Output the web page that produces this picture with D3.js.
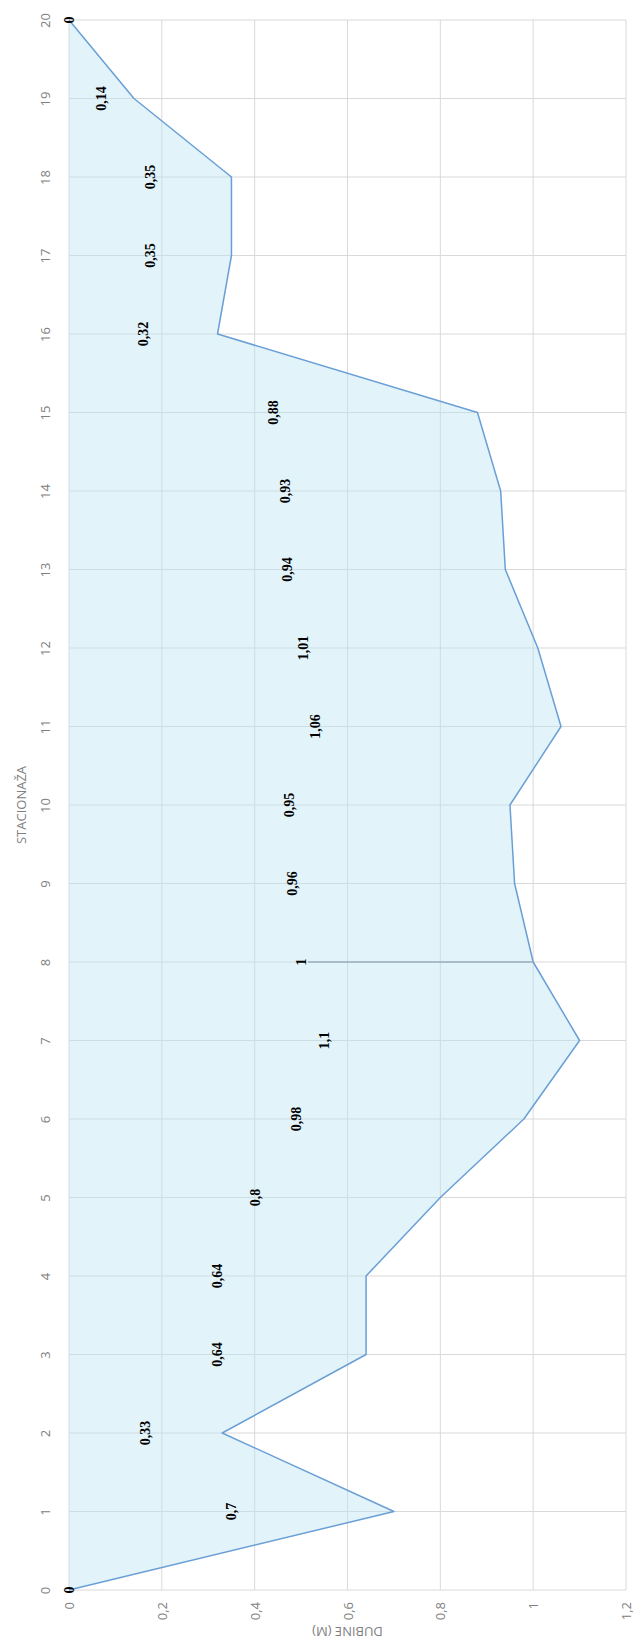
<!DOCTYPE html>
<html>
<head>
<meta charset="utf-8">
<script src="https://cdn.jsdelivr.net/npm/d3@7"></script>
<style>
  html, body { margin: 0; padding: 0; background: #fff; }
  svg { display: block; }
</style>
</head>
<body>
<svg id="chart" width="635" height="1641"></svg>
<script>
// ---- data ----
const categories = [0,1,2,3,4,5,6,7,8,9,10,11,12,13,14,15,16,17,18,19,20];
const depths = [0,0.7,0.33,0.64,0.64,0.8,0.98,1.1,1,0.96,0.95,1.06,1.01,0.94,0.93,0.88,0.32,0.35,0.35,0.14,0];
const valueTicks = [0,0.2,0.4,0.6,0.8,1,1.2];
const categoryTitle = "STACIONAŽA";
const valueTitle = "DUBINE (M)";

const fmt = v => String(v).replace(".", ",");

const svg = d3.select("#chart");
const x = d3.scaleLinear().domain([0, 1.2]).range([69, 626]);
const y = d3.scaleLinear().domain([0, 20]).range([1590, 20]);

const data = categories.map((c, i) => ({ c, v: depths[i] }));
const gridColor = "#d9d9d9";
const tickColor = "#808080";

// gridlines
svg.append("g").selectAll("line.h").data(categories).join("line")
  .attr("x1", x(0)).attr("x2", x(1.2))
  .attr("y1", d => y(d)).attr("y2", d => y(d))
  .attr("stroke", gridColor).attr("stroke-width", 1);
svg.append("g").selectAll("line.v").data(valueTicks).join("line")
  .attr("x1", d => x(d)).attr("x2", d => x(d))
  .attr("y1", y(20)).attr("y2", y(0))
  .attr("stroke", gridColor).attr("stroke-width", 1);

// area
const area = d3.area().y(d => y(d.c)).x0(x(0)).x1(d => x(d.v));
svg.append("path").datum(data)
  .attr("d", area)
  .attr("fill", "#b9e3f4").attr("fill-opacity", 0.42);

const line = d3.line().y(d => y(d.c)).x(d => x(d.v));
svg.append("path").datum(data)
  .attr("d", line)
  .attr("fill", "none").attr("stroke", "#6a9fd6").attr("stroke-width", 1.5)
  .attr("stroke-linejoin", "round");

// leader line at category 8
const c8 = data[8];
svg.append("line")
  .attr("x1", x(c8.v / 2) + 7).attr("x2", x(c8.v))
  .attr("y1", y(c8.c)).attr("y2", y(c8.c))
  .attr("stroke", "#9aaebb").attr("stroke-width", 1.3);

// category axis (left)
const catAxis = svg.append("g").attr("transform", `translate(${x(0)},0)`)
  .call(d3.axisLeft(y).tickValues(categories).tickSize(0).tickFormat(d3.format("d")));
catAxis.select(".domain").remove();
catAxis.selectAll("text")
  .attr("x", 0).attr("dy", "0.35em")
  .attr("text-anchor", "middle")
  .attr("transform", "translate(-24,0) rotate(-90)")
  .attr("fill", tickColor)
  .style("font-family", "'Open Sans', 'Noto Sans', sans-serif")
  .style("font-size", "13px");

// value axis (bottom)
const valAxis = svg.append("g").attr("transform", `translate(0,${y(0)})`)
  .call(d3.axisBottom(x).tickValues(valueTicks).tickSize(0).tickFormat(fmt));
valAxis.select(".domain").remove();
valAxis.selectAll("text")
  .attr("x", 0).attr("y", 0).attr("dy", "0.35em")
  .attr("text-anchor", "end")
  .attr("transform", "translate(0,12) rotate(-90)")
  .attr("fill", tickColor)
  .style("font-family", "'Open Sans', 'Noto Sans', sans-serif")
  .style("font-size", "13px");

// axis titles
svg.append("text")
  .attr("transform", `translate(21,${(y(0) + y(20)) / 2}) rotate(-90)`)
  .attr("text-anchor", "middle").attr("dy", "0.35em")
  .attr("fill", tickColor)
  .style("font-family", "'Open Sans', 'Noto Sans', sans-serif")
  .style("font-size", "13px")
  .text(categoryTitle);
svg.append("text")
  .attr("transform", `translate(${(x(0) + x(1.2)) / 2},1632) rotate(180)`)
  .attr("text-anchor", "middle").attr("dy", "0.35em")
  .attr("fill", tickColor)
  .style("font-family", "'Open Sans', 'Noto Sans', sans-serif")
  .style("font-size", "13px")
  .text(valueTitle);

// data labels
svg.append("g").selectAll("text").data(data).join("text")
  .attr("transform", d => `translate(${x(d.v / 2)},${y(d.c)}) rotate(-90)`)
  .attr("text-anchor", "middle").attr("dy", "0.35em")
  .attr("fill", "#000")
  .style("font-family", "'Liberation Serif', 'DejaVu Serif', serif")
  .style("font-weight", "bold")
  .style("font-size", "14px")
  .text(d => fmt(d.v));
</script>
</body>
</html>
